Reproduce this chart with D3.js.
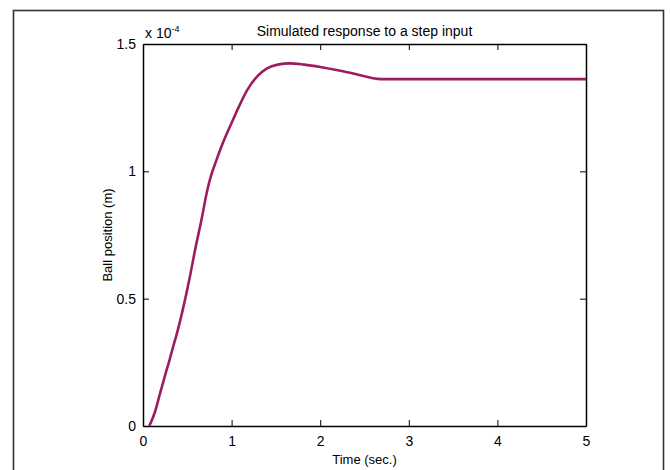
<!DOCTYPE html>
<head>
<meta charset="utf-8">
<style>
  body { margin: 0; background: white; }
  svg { font-family: 'Liberation Sans', Arial, sans-serif; }
  .axis text { font-size: 14px; fill: #000; }
  .axis path, .axis line { stroke: #000; }
  .title, .label { font-size: 13px; fill: #000; }
</style>
</head>
<body>
<script src="https://cdn.jsdelivr.net/npm/d3@7"></script>
<script>
// data (position in units of 1e-4 m)
var time = [0.071, 0.135, 0.19, 0.25, 0.3, 0.335, 0.384, 0.448, 0.52, 0.587, 0.66, 0.725, 0.77, 0.83, 0.9, 1.0, 1.08, 1.174, 1.287, 1.40, 1.52, 1.66, 1.82, 2.0, 2.35, 2.69, 3.5, 5];
var position = [0, 0.055, 0.125, 0.2, 0.26, 0.305, 0.365, 0.455, 0.57, 0.69, 0.81, 0.925, 0.985, 1.045, 1.11, 1.19, 1.252, 1.318, 1.372, 1.404, 1.419, 1.424, 1.419, 1.41, 1.386, 1.362, 1.362, 1.362];
var xTicks = [0, 1, 2, 3, 4, 5];
var yTicks = [0, 0.5, 1, 1.5];

var width = 671, height = 470;
var margin = {top: 44, right: 85, bottom: 44, left: 143};

var svg = d3.select('body').append('svg')
    .attr('width', width)
    .attr('height', height);

// outer figure frame
svg.append('rect')
    .attr('x', 13.5).attr('y', 10.5)
    .attr('width', 650).attr('height', 480)
    .attr('fill', 'none')
    .attr('stroke', '#333')
    .attr('stroke-width', 1.6);

var x = d3.scaleLinear([0, 5], [margin.left, width - margin.right]);
var y = d3.scaleLinear([0, 1.5], [height - margin.bottom, margin.top]);

var tick = 6;

svg.append('g')
    .attr('class', 'axis')
    .attr('transform', `translate(0,${height - margin.bottom})`)
    .call(d3.axisBottom(x).tickValues(xTicks).tickFormat(d3.format('d')).tickSizeInner(-tick).tickSizeOuter(0).tickPadding(10));

svg.append('g')
    .attr('class', 'axis')
    .attr('transform', `translate(0,${margin.top})`)
    .call(d3.axisTop(x).tickValues(xTicks).tickFormat('').tickSizeInner(-tick).tickSizeOuter(0));

svg.append('g')
    .attr('class', 'axis')
    .attr('transform', `translate(${margin.left},0)`)
    .call(d3.axisLeft(y).tickValues(yTicks).tickFormat(d3.format('')).tickSizeInner(-tick).tickSizeOuter(0).tickPadding(7));

svg.append('g')
    .attr('class', 'axis')
    .attr('transform', `translate(${width - margin.right},0)`)
    .call(d3.axisRight(y).tickValues(yTicks).tickFormat('').tickSizeInner(-tick).tickSizeOuter(0));

svg.selectAll('.axis .tick line').attr('stroke-width', 1);
svg.selectAll('.axis path').attr('stroke-width', 1.5);

// curve
var line = d3.line()
    .curve(d3.curveMonotoneX)
    .x((d, i) => x(time[i]))
    .y(d => y(d));

svg.append('path')
    .datum(position)
    .attr('d', line)
    .attr('fill', 'none')
    .attr('stroke', '#9c1c60')
    .attr('stroke-width', 2.6);

// texts
svg.append('text')
    .attr('class', 'title')
    .attr('x', (x(0) + x(5)) / 2)
    .attr('y', 36)
    .attr('text-anchor', 'middle')
    .style('font-size', '14px')
    .text('Simulated response to a step input');

var exp = svg.append('text')
    .attr('class', 'label')
    .attr('x', 145)
    .attr('y', 38)
    .style('font-size', '14px')
    .text('x 10');
exp.append('tspan')
    .attr('dy', -6)
    .style('font-size', '9px')
    .text('-4');

svg.append('text')
    .attr('class', 'label')
    .attr('x', (x(0) + x(5)) / 2)
    .attr('y', 464)
    .attr('text-anchor', 'middle')
    .text('Time (sec.)');

svg.append('text')
    .attr('class', 'label')
    .attr('transform', `translate(112,${(y(0) + y(1.5)) / 2}) rotate(-90)`)
    .attr('text-anchor', 'middle')
    .text('Ball position (m)');
</script>
</body>
